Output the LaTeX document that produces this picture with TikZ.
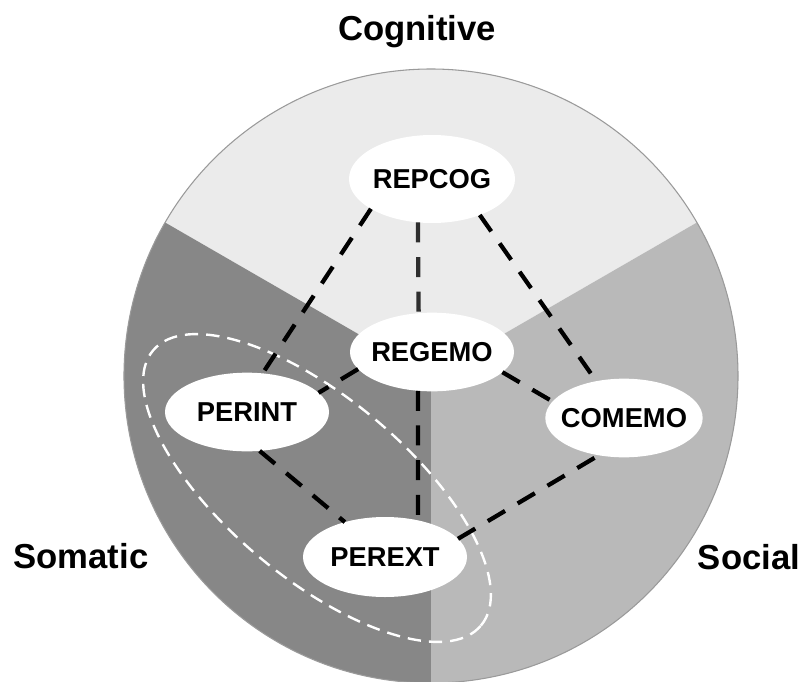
\documentclass[tikz,border=0pt]{standalone}
\usepackage{fontspec}
\setmainfont{Liberation Sans}
\usetikzlibrary{shapes.geometric}
\definecolor{cogfill}{HTML}{EBEBEB}
\definecolor{somfill}{HTML}{878787}
\definecolor{socfill}{HTML}{B9B9B9}
\definecolor{rimgray}{HTML}{9A9A9A}
\begin{document}
\begin{tikzpicture}[x=0.75pt,y=-0.75pt,
  nd/.style={ellipse, fill=white, inner sep=0pt, outer sep=0pt, minimum width=123pt, minimum height=59pt, font=\bfseries\fontsize{20.5}{24}\selectfont},
  conn/.style={line width=3.2pt, dash pattern=on 15pt off 11pt, black},
  cat/.style={font=\bfseries\fontsize{26}{30}\selectfont, anchor=base},
  grp/.style={ellipse, draw=white, line width=1.8pt, dash pattern=on 10pt off 6pt, minimum width=321pt, minimum height=135pt, inner sep=0pt}
]
\useasboundingbox (0,0) rectangle (800,682);
\coordinate (C) at (431,376);
% sectors
\fill[cogfill] (C) -- ++(-30:307) arc[start angle=-30,end angle=-150,radius=307] -- cycle;
\fill[somfill] (C) -- ++(210:307) arc[start angle=210,end angle=90,radius=307] -- cycle;
\fill[socfill] (C) -- ++(90:307) arc[start angle=90,end angle=-30,radius=307] -- cycle;
\draw[rimgray, line width=0.8pt] (C) circle[radius=307];
% group ellipse
\node[grp, rotate=-40] (grp) at (317,488) {};
% nodes
\node[nd, minimum width=124.5pt, minimum height=66pt] (REPCOG) at (432,179) {\makebox[0pt]{REPCOG}};
\node[nd] (REGEMO) at (432,352) {\makebox[0pt]{REGEMO}};
\node[nd] (PERINT) at (247,412) {\makebox[0pt]{PERINT}};
\node[nd, minimum width=118pt] (COMEMO) at (624,418) {\makebox[0pt]{COMEMO}};
\node[nd, minimum height=60pt] (PEREXT) at (385,557) {\makebox[0pt]{PEREXT}};
% connectors
\draw[conn] (REPCOG.206.6) -- (PERINT.68);
\draw[conn, black!82] (REPCOG.252) -- (REGEMO.109.7);
\draw[conn] (REGEMO.250.3) -- (PEREXT.48);
\draw[conn] (REGEMO.193.7) -- (PERINT.15);
\draw[conn] (REGEMO.344.7) -- (COMEMO.167.6);
\draw[conn] (REPCOG.323.7) -- (COMEMO.127.6);
\draw[conn] (PERINT.288.4) -- (PEREXT.139.8);
\draw[conn] (PEREXT.14.7) -- (COMEMO.236);
% category labels
\node[cat] (cog) at (417,40) {Cognitive};
\node[cat] (som) at (81,568) {Somatic};
\node[cat] (soc) at (749,569) {Social};
\end{tikzpicture}
\end{document}
